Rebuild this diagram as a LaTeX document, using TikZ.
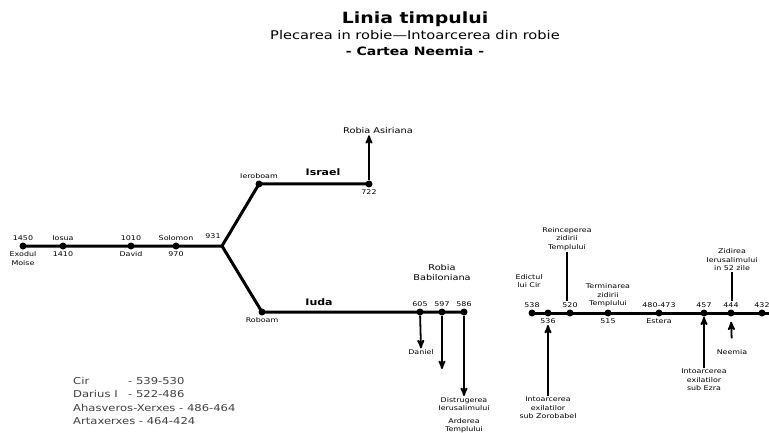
\documentclass[tikz,border=0pt]{standalone}
\usepackage{fontspec}
\setmainfont{DejaVu Sans}[FakeStretch=1.22]
\usetikzlibrary{arrows,positioning}
\tikzset{
  dot/.style = {circle, fill=black, inner sep=0pt, minimum size=7pt},
  lbl/.style = {align=center, inner sep=1pt,
    font=\fontsize{6.5}{8.5}\selectfont},% etichete mici
  big/.style = {align=center, inner sep=1pt,
    font=\fontsize{8}{10}\selectfont},
  head/.style = {inner sep=1pt, font=\bfseries\fontsize{9}{11}\selectfont},
  leg/.style = {anchor=west, inner sep=0pt, text=black!75,
    font=\fontsize{9.5}{11}\selectfont},
  tl/.style = {line width=3pt},
  tick/.style = {line width=1.8pt},
  arr/.style = {->, >=stealth', line width=1.8pt}
}

\begin{document}
\begin{tikzpicture}[x=1pt,y=-1pt]
		\useasboundingbox (0,0) rectangle (769,433);
		% titlu
		\node (titlu) at (415,19) {\bfseries\fontsize{15.5}{18}\selectfont Linia timpului};
		\node (subtitlu) at (415,35) {\fontsize{12}{14}\selectfont Plecarea in robie---Intoarcerea din robie};
		\node (carte) at (415,51) {\bfseries\fontsize{11.5}{14}\selectfont - Cartea Neemia -};

		% regatul unit
		\node [dot] (d1450) at (23,246) {};
		\node [dot] (d1410) at (63,246) {};
		\node [dot] (d1010) at (131,246) {};
		\node [dot] (d970) at (176,246) {};
		\coordinate (j931) at (222,246);
		\node [dot] (dIer) at (259,184) {};
		\node [dot] (d722) at (369,184) {};
		\node [dot] (dRob) at (262,312) {};
		\node [dot] (d605) at (420,312) {};
		\node [dot] (d597) at (442,312) {};
		\node [dot] (d586) at (464,312) {};
		\draw [tl] (d1450.center) -- (j931) -- (dIer.center) -- (d722.center);
		\draw [tl] (j931) -- (dRob.center) -- (d586.center);

		\node [lbl, above=1pt of d1450] (t1450) {1450};
		\node [lbl, below=1pt of d1450] (tExod) {Exodul\\Moise};
		\node [lbl, above=1pt of d1410] (tIosua) {Iosua};
		\node [lbl, below=1pt of d1410] (t1410) {1410};
		\node [lbl, above=1pt of d1010] (t1010) {1010};
		\node [lbl, below=1pt of d1010] (tDavid) {David};
		\node [lbl, above=1pt of d970] (tSol) {Solomon};
		\node [lbl, below=1pt of d970] (t970) {970};
		\node [lbl] (t931) at (213,236) {931};

		% Israel
		\node [lbl, above=1pt of dIer] (tIer) {Ieroboam};
		\node [head] (israel) at (323,172) {Israel};
		\node [lbl, below=1pt of d722] (t722) {722};
		\node [big] (rAsir) at (378,131) {Robia Asiriana};
		\draw [arr] (d722) -- (d722 |- rAsir.south);

		% Iuda
		\node [lbl, below=1pt of dRob] (tRob) {Roboam};
		\node [head] (iuda) at (319,302) {Iuda};
		\node [big] (rBab) at (442,273) {Robia\\Babiloniana};
		\node [lbl, above=1pt of d605] (t605) {605};
		\node [lbl, above=1pt of d597] (t597) {597};
		\node [lbl, above=1pt of d586] (t586) {586};
		\node [lbl] (daniel) at (421,352) {Daniel};
		\coordinate (e597) at (442,369);
		\node [lbl, anchor=north] (distr) at (464,396) {Distrugerea\\Ierusalimului};
		\node [lbl, anchor=north] (arder) at (464,417) {Arderea\\Templului};
		\draw [arr] (d605) -- (daniel.north);
		\draw [arr] (d597) -- (e597);
		\draw [arr] (d586) -- (distr.north);

		% intoarcerea
		\node [dot] (d538) at (532,313) {};
		\node [dot] (d536) at (548,313) {};
		\node [dot] (d520) at (570,313) {};
		\node [dot] (d515) at (608,313) {};
		\node [dot] (d480) at (659,313) {};
		\node [dot] (d457) at (704,313) {};
		\node [dot] (d444) at (731,313) {};
		\node [dot] (d432) at (762,313) {};
		\coordinate (rend) at (769,313);
		\draw [tl] (d538.center) -- (rend);

		\node [lbl, above=1pt of d538] (t538) {538};
		\node [lbl] (edict) at (529,281) {Edictul\\lui Cir};
		\node [lbl, below=1pt of d536] (t536) {536};
		\node [lbl, above=1pt of d520] (t520) {520};
		\node [lbl] (reinc) at (567,239) {Reinceperea\\zidirii\\Templului};
		\node [lbl, above=1pt of d515] (term) {Terminarea\\zidirii\\Templului};
		\node [lbl, below=1pt of d515] (t515) {515};
		\node [lbl, above=1pt of d480] (t480) {480-473};
		\node [lbl, below=1pt of d480] (estera) {Estera};
		\node [lbl, above=1pt of d457] (t457) {457};
		\node [lbl, above=1pt of d444] (t444) {444};
		\node [lbl] (zid) at (732,260) {Zidirea\\Ierusalimului\\in 52 zile};
		\node [lbl, above=1pt of d432] (t432) {432};
		\node [lbl, anchor=north] (zoro) at (548,396) {Intoarcerea\\exilatilor\\sub Zorobabel};
		\node [lbl, anchor=north] (ezra) at (704,368) {Intoarcerea\\exilatilor\\sub Ezra};
		\node [lbl] (neemia) at (732,352) {Neemia};

		\draw [tick] (reinc.south) -- (reinc.south |- t520.north);
		\draw [tick] (zid.south) -- (zid.south |- t444.north);
		\draw [arr] (zoro.north) -- (t536.south);
		\draw [arr] (ezra.north) -- (d457.south);
		\draw [arr, shorten <=10pt, shorten >=5pt] (neemia.north) -- (d444.south);

		% regii persani
		\node [leg] (cir) at (73,381) {Cir};
		\node [leg] (cirAni) at (128,381) {- 539-530};
		\node [leg] (darius) at (73,394) {Darius I};
		\node [leg] (dariusAni) at (128,394) {- 522-486};
		\node [leg] (ahasv) at (73,408) {Ahasveros-Xerxes - 486-464};
		\node [leg] (artax) at (73,421) {Artaxerxes - 464-424};
\end{tikzpicture}
\end{document}
